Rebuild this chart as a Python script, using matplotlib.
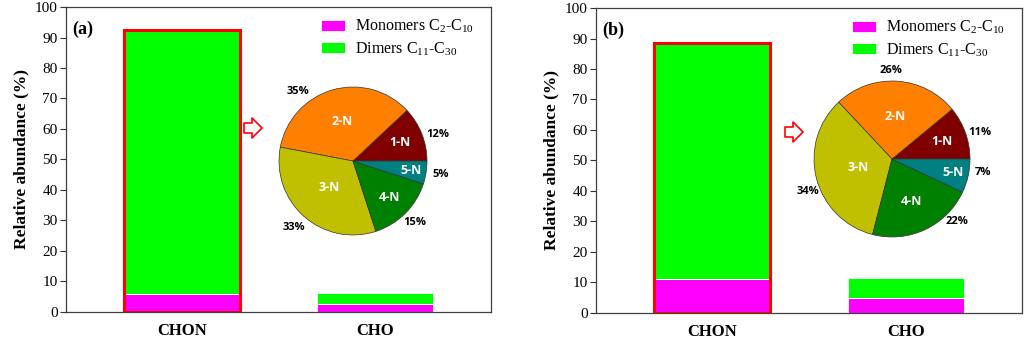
import numpy as np
import matplotlib
matplotlib.use("Agg")
import matplotlib.pyplot as plt
from matplotlib.patches import FancyArrowPatch
from matplotlib.font_manager import FontProperties

# bar data (relative abundance, %)
groups = ["CHON", "CHO"]
mono_a = [5.8, 2.7]
dimer_a = [86.5, 3.6]
mono_b = [11.0, 5.0]
dimer_b = [77.5, 6.5]

# pie data: N-number distribution of CHON
pie_labels = ["1-N", "2-N", "3-N", "4-N", "5-N"]
pie_a = [12, 35, 33, 15, 5]
pie_b = [11, 26, 34, 22, 7]
pie_colors = ["#800000", "#FF8000", "#C0C000", "#008000", "#008080"]

SERIF = "Liberation Serif"
SANS = "Open Sans"
W, H = 1025, 345

plt.rcParams["mathtext.fontset"] = "custom"
plt.rcParams["mathtext.rm"] = SERIF
plt.rcParams["mathtext.it"] = SERIF
plt.rcParams["mathtext.bf"] = SERIF + ":bold"

fig = plt.figure(figsize=(10.25, 3.45), dpi=100)


def bar_panel(rect, mono, dimer, tag):
    ax = fig.add_axes(rect)
    x = np.arange(len(groups))
    ax.bar(x, mono, width=0.6, color="#FF00FF", edgecolor="white", linewidth=0.6,
           label="Monomers C$_\\mathrm{2}$-C$_\\mathrm{10}$")
    ax.bar(x, dimer, width=0.6, bottom=mono, color="#00FF00", edgecolor="white",
           linewidth=0.6, label="Dimers C$_\\mathrm{11}$-C$_\\mathrm{30}$")
    # red frame round the CHON bar
    ax.bar(x[0], mono[0] + dimer[0], width=0.6, fill=False, edgecolor="#FF0000",
           linewidth=2.2)
    ax.set_xlim(-0.6, 1.6)
    ax.set_ylim(0, 100)
    ax.set_yticks(range(0, 101, 10))
    ax.set_xticks(x)
    ax.set_xticklabels(groups, fontfamily=SERIF, fontweight="bold", fontsize=12)
    for t in ax.get_yticklabels():
        t.set_fontfamily(SERIF)
        t.set_fontsize(11)
    ax.tick_params(axis="y", direction="out", length=4, width=0.8, colors="#333333",
                   labelcolor="black", pad=2)
    ax.tick_params(axis="x", length=0, pad=8)
    for s in ax.spines.values():
        s.set_color("#404040")
        s.set_linewidth(0.9)
    ax.set_ylabel("Relative abundance (%)", fontfamily=SERIF, fontweight="bold",
                  fontsize=12.5, labelpad=4)
    ax.text(0.015, 0.955, tag, transform=ax.transAxes, fontfamily=SERIF,
            fontweight="bold", fontsize=13, va="top", ha="left")
    ax.legend(loc="upper right", bbox_to_anchor=(0.975, 0.985), frameon=False,
              prop=FontProperties(family=SERIF, size=11.5), handlelength=1.5,
              handleheight=0.75, handletextpad=0.6, labelspacing=0.3,
              borderaxespad=0)
    return ax


def pie_panel(cx, cy, r, vals, pct_r, pct_shift, lab_r):
    # cx, cy, r in pixels (y measured from top)
    pax = fig.add_axes([(cx - r) / W, 1 - (cy + r) / H, 2 * r / W, 2 * r / H])
    wedges, _ = pax.pie(vals, colors=pie_colors, startangle=0, counterclock=True,
                        wedgeprops=dict(edgecolor="#333333", linewidth=0.5))
    pax.set_xlim(-1, 1)
    pax.set_ylim(-1, 1)
    pax.set_aspect("equal")
    for i, w in enumerate(wedges):
        mid = (w.theta1 + w.theta2) / 2
        ang = np.deg2rad(mid)
        pax.text(lab_r[i] * np.cos(ang), lab_r[i] * np.sin(ang), pie_labels[i],
                 color="white", fontweight="bold", fontfamily=SANS, fontsize=9,
                 ha="center", va="center")
        ang = np.deg2rad(mid + pct_shift[i])
        pax.text(pct_r[i] * np.cos(ang), pct_r[i] * np.sin(ang), f"{vals[i]}%",
                 color="black", fontweight="bold", fontfamily=SANS, fontsize=8,
                 ha="center", va="center")
    return pax


def arrow(x, y):
    fig.add_artist(FancyArrowPatch(
        (x / W, 1 - y / H), ((x + 18) / W, 1 - y / H), transform=fig.transFigure,
        arrowstyle="simple,head_length=0.45,head_width=0.9,tail_width=0.45",
        mutation_scale=16, facecolor="white", edgecolor="#FF0000", linewidth=1.2,
        shrinkA=0, shrinkB=0))


bar_panel([0.0644, 0.0957, 0.4146, 0.884], mono_a, dimer_a, "(a)")
bar_panel([0.5815, 0.0928, 0.4156, 0.884], mono_b, dimer_b, "(b)")

pie_panel(353, 161, 74, pie_a, [1.2, 1.2, 1.2, 1.18, 1.2], [-4, 22, 0, 0, 0],
          [0.68, 0.55, 0.48, 0.7, 0.8])
pie_panel(892, 159, 78, pie_b, [1.18, 1.14, 1.15, 1.16, 1.18], [-3, 4, 7, 21, 4],
          [0.68, 0.55, 0.45, 0.6, 0.8])

arrow(244, 128)
arrow(785, 132)

fig.savefig("out.png", dpi=100)
